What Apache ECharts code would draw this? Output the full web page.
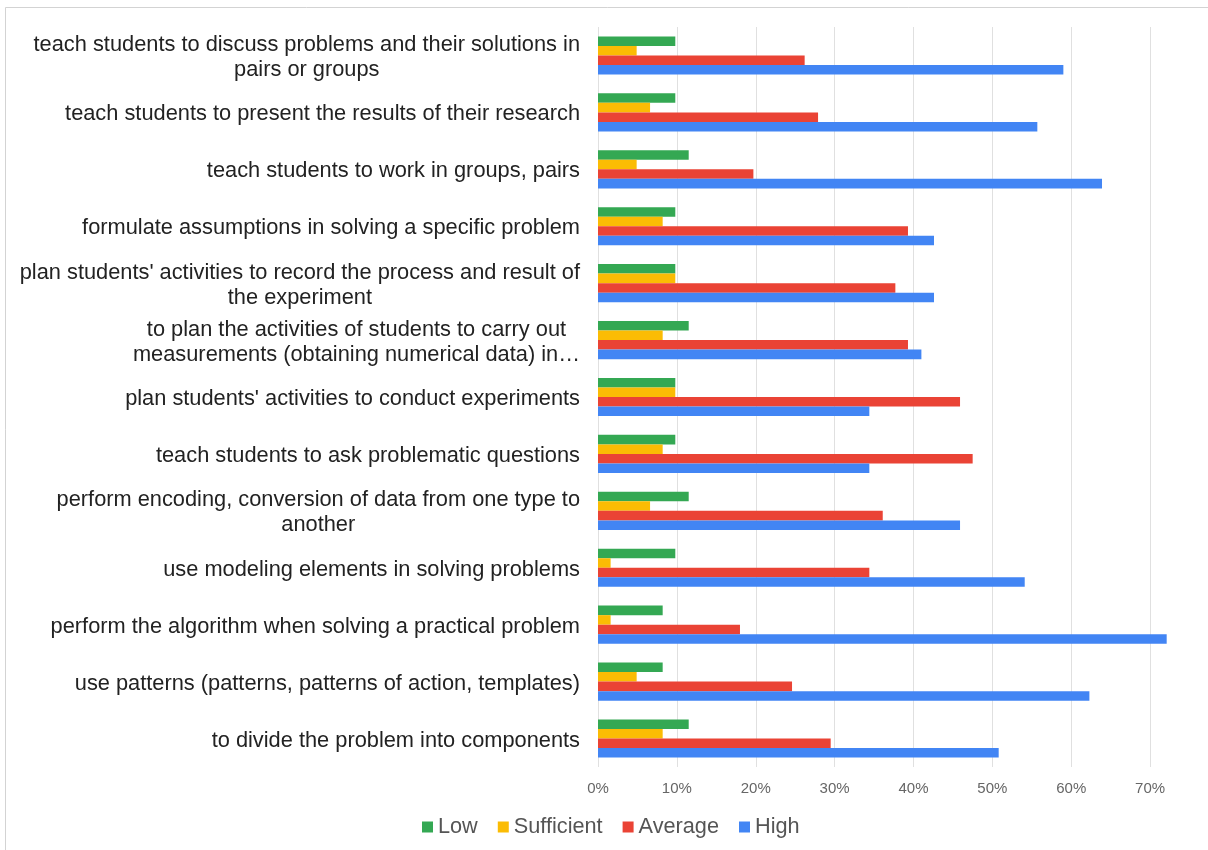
<!DOCTYPE html>
<html>
<head>
<meta charset="utf-8">
<script src="https://cdn.jsdelivr.net/npm/echarts@6/dist/echarts.min.js"></script>
<style>
  html, body { margin: 0; padding: 0; background: #ffffff; }
  #chart { width: 1208px; height: 850px; }
</style>
</head>
<body>
<div id="chart"></div>
<script>
// Categories (top to bottom), as shown in the picture
const categories = [
  "teach students to discuss problems and their solutions in\npairs or groups",
  "teach students to present the results of their research",
  "teach students to work in groups, pairs",
  "formulate assumptions in solving a specific problem",
  "plan students' activities to record the process and result of\nthe experiment",
  "to plan the activities of students to carry out\nmeasurements (obtaining numerical data) in\u2026",
  "plan students' activities to conduct experiments",
  "teach students to ask problematic questions",
  "perform encoding, conversion of data from one type to\nanother",
  "use modeling elements in solving problems",
  "perform the algorithm when solving a practical problem",
  "use patterns (patterns, patterns of action, templates)",
  "to divide the problem into components"
];

// Series values, in percent
const low        = [9.8, 9.8, 11.5, 9.8, 9.8, 11.5, 9.8, 9.8, 11.5, 9.8, 8.2, 8.2, 11.5];
const sufficient = [4.9, 6.6, 4.9, 8.2, 9.8, 8.2, 9.8, 8.2, 6.6, 1.6, 1.6, 4.9, 8.2];
const average    = [26.2, 27.9, 19.7, 39.3, 37.7, 39.3, 45.9, 47.5, 36.1, 34.4, 18.0, 24.6, 29.5];
const high       = [59.0, 55.7, 63.9, 42.6, 42.6, 41.0, 34.4, 34.4, 45.9, 54.1, 72.1, 62.3, 50.8];

const seriesNames = ["Low", "Sufficient", "Average", "High"];
const seriesColors = ["#34A853", "#FBBC04", "#EA4335", "#4285F4"];
const seriesValues = [low, sufficient, average, high];

const chart = echarts.init(document.getElementById('chart'));
const FONT = "'Liberation Sans', Arial, sans-serif";

const option = {
  animation: false,
  backgroundColor: '#ffffff',
  graphic: [{
    type: 'rect',
    shape: { x: 5.5, y: 7.5, width: 1400, height: 1000 },
    style: { fill: 'none', stroke: '#d3d3d3', lineWidth: 1 },
    silent: true
  }],
  grid: {
    left: 598, top: 27, width: 631, height: 740,
    outerBoundsMode: 'none',
    containLabel: false
  },
  legend: {
    data: seriesNames,
    left: 417,
    top: 811,
    icon: 'rect',
    itemWidth: 11,
    itemHeight: 11,
    itemGap: 20,
    textStyle: { fontFamily: FONT, fontSize: 21.7, color: '#555555' }
  },
  xAxis: {
    type: 'value',
    min: 0,
    max: 80,
    interval: 10,
    axisLine: { show: false },
    axisTick: { show: false },
    splitLine: { show: true, lineStyle: { color: '#e0e0e0', width: 1 } },
    axisLabel: {
      formatter: '{value}%',
      fontFamily: FONT,
      fontSize: 15,
      color: '#666666',
      margin: 14,
      showMaxLabel: false
    }
  },
  yAxis: {
    type: 'category',
    data: categories,
    inverse: true,
    axisLine: { show: false },
    axisTick: { show: false },
    splitLine: { show: false },
    axisLabel: {
      interval: 0,
      margin: 18,
      align: 'right',
      padding: [4, 0, 0, 0],
      fontFamily: FONT,
      fontSize: 21.8,
      lineHeight: 25,
      color: '#222222',
      formatter: function (v) {
        return v.split('\n').map(function (l) { return '{c|' + l + '}'; }).join('\n');
      },
      rich: {
        c: { align: 'center', fontFamily: FONT, fontSize: 21.8, lineHeight: 25, color: '#222222' }
      }
    }
  },
  series: seriesNames.map(function (name, i) {
    return {
      name: name,
      type: 'bar',
      data: seriesValues[i],
      barGap: '0%',
      barCategoryGap: '33%',
      itemStyle: { color: seriesColors[i] }
    };
  })
};

chart.setOption(option);
</script>
</body>
</html>
